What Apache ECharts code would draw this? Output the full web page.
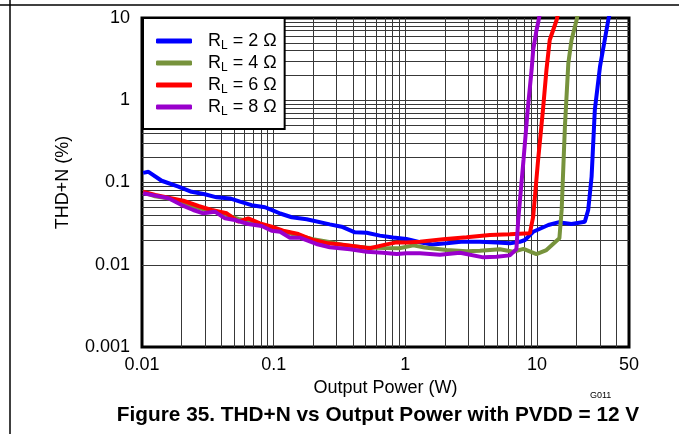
<!DOCTYPE html>
<html>
<head>
<meta charset="utf-8">
<script src="https://cdn.jsdelivr.net/npm/echarts@6/dist/echarts.min.js"></script>
<style>
  html, body { margin: 0; padding: 0; background: #fff; }
  #chart { width: 679px; height: 434px; }
</style>
</head>
<body>
<div id="chart"></div>
<script>
// THD+N (%) vs output power (W)
var rl2 = [[0.0102, 0.131], [0.0112, 0.135], [0.0141, 0.105], [0.0189, 0.089], [0.0238, 0.077], [0.030, 0.072], [0.0369, 0.066], [0.0466, 0.064], [0.0555, 0.0585], [0.068, 0.053], [0.086, 0.050], [0.0993, 0.0454], [0.112, 0.042], [0.137, 0.0378], [0.178, 0.0357], [0.267, 0.031], [0.328, 0.029], [0.414, 0.0248], [0.508, 0.0245], [0.641, 0.0226], [0.809, 0.0215], [1.02, 0.0206], [1.29, 0.0188], [1.6, 0.0176], [2.06, 0.0182], [2.76, 0.0191], [3.69, 0.0191], [4.93, 0.0187], [6.22, 0.0182], [7.4, 0.019], [8.1, 0.020], [9.36, 0.0252], [12.2, 0.0304], [14.5, 0.0328], [18.3, 0.0313], [23.1, 0.0334], [24.5, 0.0463], [26.0, 0.118], [27.5, 0.76], [30.1, 2.56], [34.8, 9.46], [36, 12]]
var rl4 = [[0.0102, 0.076], [0.0126, 0.068], [0.0159, 0.064], [0.02, 0.057], [0.0245, 0.051], [0.03, 0.047], [0.036, 0.045], [0.044, 0.040], [0.054, 0.036], [0.064, 0.034], [0.079, 0.031], [0.097, 0.028], [0.118, 0.0255], [0.154, 0.0225], [0.2, 0.0205], [0.27, 0.0188], [0.35, 0.0172], [0.5, 0.0162], [0.7, 0.016], [0.9, 0.0159], [1.15, 0.0172], [1.4, 0.0162], [2.06, 0.0151], [2.92, 0.0146], [3.69, 0.0148], [5.23, 0.0154], [6.6, 0.0144], [7.9, 0.0156], [9.9, 0.0135], [11.8, 0.0151], [14.8, 0.021], [15.4, 0.0464], [16.3, 0.477], [17.3, 2.81], [18.3, 5.4], [20, 9.46], [20.6, 12]]
var rl6 = [[0.0102, 0.0773], [0.0126, 0.0705], [0.0159, 0.0653], [0.0206, 0.060], [0.0268, 0.0518], [0.0338, 0.0463], [0.044, 0.0422], [0.0538, 0.0334], [0.0641, 0.0367], [0.0787, 0.0319], [0.0966, 0.029], [0.118, 0.0259], [0.154, 0.0236], [0.2, 0.020], [0.26, 0.0182], [0.348, 0.0174], [0.538, 0.0159], [0.72, 0.0177], [0.86, 0.0187], [1.02, 0.0187], [1.29, 0.0191], [1.94, 0.0204], [2.92, 0.0216], [4.39, 0.023], [6.22, 0.0235], [8.83, 0.0241], [9.1, 0.0245], [9.36, 0.0384], [10.2, 0.188], [11.1, 0.76], [11.8, 2.33], [12.5, 5.4], [14.1, 9.46], [14.6, 12]]
var rl8 = [[0.0102, 0.074], [0.0126, 0.0692], [0.0159, 0.0643], [0.02, 0.0532], [0.0245, 0.0463], [0.0292, 0.0422], [0.0358, 0.0442], [0.0427, 0.0367], [0.0507, 0.035], [0.0641, 0.0313], [0.0811, 0.0296], [0.0966, 0.0259], [0.112, 0.0252], [0.133, 0.0213], [0.158, 0.0213], [0.211, 0.0179], [0.267, 0.0163], [0.38, 0.0154], [0.508, 0.0144], [0.675, 0.014], [0.86, 0.0135], [1.02, 0.0138], [1.29, 0.0138], [1.83, 0.0132], [2.6, 0.014], [3.91, 0.0123], [4.93, 0.0125], [6.22, 0.013], [6.98, 0.0155], [7.2, 0.0346], [7.9, 0.188], [8.5, 0.76], [9.1, 2.33], [9.36, 4.1], [9.9, 7.0], [10.3, 9.46], [10.6, 12]]

var seriesNames = ['2', '4', '6', '8']
var seriesColors = ['#0000ff', '#77933c', '#ff0000', '#9900cc']
var seriesData = [rl2, rl4, rl6, rl8]

// grid lines at 1..9 x each decade
var xDecades = [0.01, 0.1, 1, 10]
var yDecades = [0.001, 0.01, 0.1, 1]
var gridLines = []
xDecades.forEach(function (d) {
  for (var k = 1; k <= 9; k++) {
    var v = +(d * k).toPrecision(3)
    if (v > 0.01 && v < 50) gridLines.push({ xAxis: v })
  }
})
yDecades.forEach(function (d) {
  for (var k = 1; k <= 9; k++) {
    var v = +(d * k).toPrecision(3)
    if (v > 0.001 && v < 10) gridLines.push({ yAxis: v })
  }
})

var chart = echarts.init(document.getElementById('chart'))

var series = [{
  type: 'line',
  data: [],
  silent: true,
  markLine: {
    z: 1,
    silent: true,
    animation: false,
    symbol: ['none', 'none'],
    label: { show: false },
    emphasis: { disabled: true },
    lineStyle: { color: '#383838', width: 1, type: 'solid' },
    data: gridLines
  }
}]
seriesData.forEach(function (d, i) {
  series.push({
    name: seriesNames[i],
    type: 'line',
    data: d,
    showSymbol: false,
    symbol: 'none',
    clip: true,
    z: 3,
    lineStyle: { color: seriesColors[i], width: 4 },
    itemStyle: { color: seriesColors[i] }
  })
})

var labelFont = 'Liberation Sans'

chart.setOption({
  animation: false,
  grid: {
    left: 142, top: 18, width: 487, height: 329,
    show: true, borderColor: '#000', borderWidth: 3, backgroundColor: '#fff'
  },
  legend: {
    orient: 'vertical',
    left: 143, top: 18,
    padding: [14, 8, 11, 13],
    backgroundColor: '#fff',
    borderColor: '#000',
    borderWidth: 2,
    itemWidth: 36,
    itemHeight: 5,
    itemGap: 2,
    icon: 'roundRect',
    data: seriesNames,
    formatter: function (n) {
      return '{r|R}{s|L}{t| = ' + n + ' Ω}'
    },
    textStyle: {
      fontFamily: labelFont,
      rich: {
        r: { fontSize: 18, lineHeight: 22, color: '#000', fontFamily: labelFont, padding: [0, 0, 0, 11] },
        s: { fontSize: 12, lineHeight: 22, color: '#000', fontFamily: labelFont, verticalAlign: 'bottom' },
        t: { fontSize: 18, lineHeight: 22, color: '#000', fontFamily: labelFont }
      }
    }
  },
  xAxis: {
    type: 'log',
    logBase: 10,
    min: 0.01,
    max: 50,
    name: 'Output Power (W)',
    nameLocation: 'middle',
    nameGap: 32,
    nameTextStyle: { fontFamily: labelFont, fontSize: 18, color: '#000' },
    axisLine: { show: false },
    axisTick: { show: false },
    splitLine: { show: false },
    axisLabel: { fontFamily: labelFont, fontSize: 18, color: '#000', margin: 9 }
  },
  yAxis: {
    type: 'log',
    logBase: 10,
    min: 0.001,
    max: 10,
    name: 'THD+N (%)',
    nameLocation: 'middle',
    nameGap: 70,
    nameTextStyle: { fontFamily: labelFont, fontSize: 18, color: '#000' },
    axisLine: { show: false },
    axisTick: { show: false },
    splitLine: { show: false },
    axisLabel: { fontFamily: labelFont, fontSize: 18, color: '#000', margin: 12 }
  },
  graphic: [
    { type: 'line', shape: { x1: 0, y1: 5, x2: 679, y2: 5 }, style: { stroke: '#000', lineWidth: 1.5 } },
    { type: 'line', shape: { x1: 10, y1: 0, x2: 10, y2: 434 }, style: { stroke: '#000', lineWidth: 1.5 } },
    { type: 'text', left: 590, top: 391, style: { text: 'G011', font: '9px "Liberation Sans"', fill: '#000' } },
    { type: 'text', x: 378, y: 415, style: { text: 'Figure 35. THD+N vs Output Power with PVDD = 12 V', font: 'bold 20.8px "Liberation Sans"', fill: '#000', align: 'center', verticalAlign: 'middle' } }
  ],
  series: series
})
</script>
</body>
</html>
